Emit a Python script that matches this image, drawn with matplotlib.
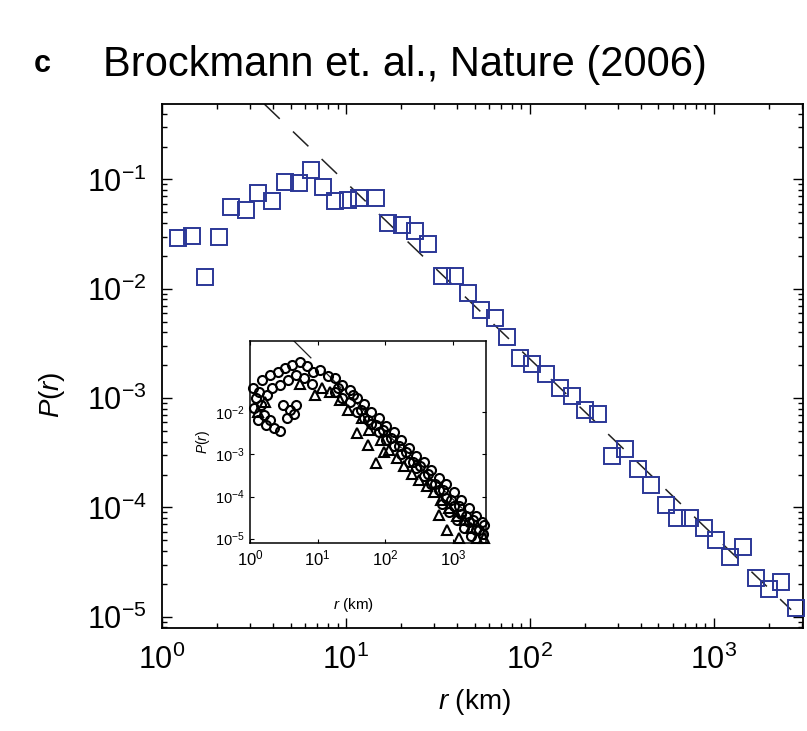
import matplotlib
matplotlib.use('Agg')
import matplotlib.pyplot as plt
from matplotlib.ticker import NullLocator

plt.rcParams['font.family'] = ['Liberation Sans', 'DejaVu Sans']
plt.rcParams['mathtext.fontset'] = 'custom'
plt.rcParams['mathtext.rm'] = 'Liberation Sans'
plt.rcParams['mathtext.it'] = 'Liberation Sans:italic'
plt.rcParams['mathtext.bf'] = 'Liberation Sans:bold'

# main panel: P(r) of dollar-bill travel distances (blue squares)
r_main = [1.22, 1.45, 1.71, 2.04, 2.37, 2.85, 3.31, 3.95, 4.64, 5.53, 6.42, 7.46,
          8.67, 10.3, 11.8, 14.6, 17.0, 20.2, 23.8, 28.0, 33.3, 39.2, 46.1, 54.2,
          64.6, 75.0, 88.3, 102.5, 122, 145.5, 169, 199, 234, 278, 327, 385,
          458, 546, 634, 746, 888, 1032, 1228, 1445, 1700, 2000, 2323, 2800]
p_main = [0.0289, 0.0301, 0.0127, 0.0295, 0.0566, 0.0521, 0.0745, 0.063, 0.094,
          0.092, 0.123, 0.0845, 0.063, 0.0643, 0.067, 0.067, 0.0396, 0.038,
          0.0335, 0.0255, 0.013, 0.013, 0.0091, 0.00637, 0.00538, 0.00361,
          0.00232, 0.00205, 0.00166, 0.00123, 0.00104, 0.000776, 0.000714,
          0.000295, 0.000342, 0.000225, 0.00016, 0.000105, 8.0e-5, 8.0e-5,
          6.5e-5, 5.05e-5, 3.53e-5, 4.35e-5, 2.27e-5, 1.80e-5, 2.09e-5, 1.21e-5]

# power-law guide line (end points)
line_r = [3.6, 2630]
line_p = [0.49, 1.16e-5]

# inset: circles and triangles
circ_r = [1.11, 1.22, 1.15, 1.36, 1.45, 1.61, 1.78, 1.97, 1.31, 1.72, 2.25, 2.76,
          3.06, 3.87, 3.50, 4.75, 4.44,
          1.50, 1.97, 2.58, 3.27, 4.15, 5.43, 6.89, 8.44, 10.7, 14.0, 4.75, 3.62,
          2.76, 2.11, 6.22, 8.17,
          17.8, 17.8, 22.5, 22.5, 29.5, 29.5, 37.5, 37.5, 49.0, 49.0, 62.1, 62.1,
          81.6, 81.6, 103, 103, 135, 135, 172, 172, 225, 225, 284, 284, 373, 373,
          474, 474, 621, 621, 789, 789, 1036, 1036, 1314, 1314, 1716, 1716, 2175,
          2175, 2672, 2765, 1144, 1451, 1838, 874, 687,
          19.7, 32.7, 42.9, 54.4, 71.3, 93.5, 122, 161, 204, 258, 327, 429, 543,
          713, 935, 1225, 1552, 1968, 2410, 2860]
circ_p = [0.038, 0.022, 0.0127, 0.030, 0.015, 0.0086, 0.026, 0.0066, 0.0066, 0.0050,
          0.0042, 0.0036, 0.0149, 0.0114, 0.0073, 0.0149, 0.0091,
          0.059, 0.077, 0.091, 0.113, 0.133, 0.157, 0.126, 0.091, 0.101, 0.073,
          0.077, 0.059, 0.045, 0.038, 0.065, 0.047,
          0.065, 0.030, 0.045, 0.022, 0.034, 0.0176, 0.022, 0.0102, 0.0158, 0.0073,
          0.0102, 0.0053, 0.0073, 0.0034, 0.0047, 0.0022, 0.0034, 0.0016, 0.0022,
          0.00102, 0.0014, 0.00066, 0.00092, 0.00048, 0.00066, 0.00031, 0.00043,
          0.00020, 0.00028, 0.00014, 0.00020, 9.2e-5, 0.00013, 6.0e-5, 8.3e-5,
          3.8e-5, 5.3e-5, 2.5e-5, 3.4e-5, 1.6e-5, 2.5e-5, 1.3e-5, 2.8e-5, 1.8e-5,
          1.15e-5, 4.3e-5, 6.6e-5,
          0.038, 0.0258, 0.0114, 0.0066, 0.0050, 0.0038, 0.00245, 0.0016, 0.00114,
          0.00066, 0.00053, 0.00034, 0.00020, 0.00014, 8.3e-5, 6.0e-5, 3.4e-5,
          2.8e-5, 1.6e-5, 2.1e-5]
tri_r = [15.0, 21.0, 27.6, 37.5, 44.4, 58.1, 73.6, 87.4, 114, 150, 190, 250, 316,
         414, 526, 665, 874, 1144, 1451, 1838, 2250, 2860, 54.4, 96.6, 5.43, 11.4,
         9.03, 1.31, 1.66, 816, 621, 1225]
tri_p = [0.030, 0.0196, 0.0114, 0.0032, 0.0073, 0.0038, 0.00063, 0.0022, 0.0013,
         0.00082, 0.00053, 0.00034, 0.00025, 0.00018, 0.00013, 8.3e-5, 5.3e-5,
         3.4e-5, 2.8e-5, 1.8e-5, 1.03e-5, 1.03e-5, 0.0017, 0.00114, 0.047, 0.038,
         0.026, 0.0102, 0.0176, 1.6e-5, 3.6e-5, 1.03e-5]
inset_line_r = [4.4, 2800]
inset_line_p = [0.5, 1.64e-5]

xmin, xmax = 1, 3050
ymin, ymax = 7.9e-6, 0.49

fig = plt.figure(figsize=(8.07, 7.31), dpi=100)
ax = fig.add_axes([0.2007, 0.1409, 0.7943, 0.7168])
ax.set_xscale('log')
ax.set_yscale('log')
ax.set_xlim(xmin, xmax)
ax.set_ylim(ymin, ymax)
ax.plot(line_r, line_p, color='#222222', lw=1.1, dashes=(14, 12), zorder=2)
ax.plot(r_main, p_main, ls='none', marker='s', ms=11, mfc='none', mec='#2b3797',
        mew=1.4, zorder=3, clip_on=False)
ax.set_xticks([1, 10, 100, 1000])
ax.set_yticks([1e-5, 1e-4, 1e-3, 1e-2, 1e-1])
ax.tick_params(which='both', direction='in', top=True, right=True, width=1)
ax.tick_params(which='major', length=7, labelsize=22)
ax.tick_params(axis='y', which='major', pad=11)
ax.tick_params(axis='x', which='major', pad=12)
ax.tick_params(which='minor', length=3.5)
for s in ax.spines.values():
    s.set_linewidth(1.3)
ax.set_xlabel(r'$\mathit{r}$ (km)', fontsize=20)
ax.set_ylabel(r'$\mathit{P}$($\mathit{r}$)', fontsize=20)
ax.xaxis.set_label_coords(0.488, -0.112)
ax.yaxis.set_label_coords(-0.148, 0.445)

# inset
axi = fig.add_axes([0.3098, 0.2572, 0.2924, 0.2763])
axi.set_xscale('log')
axi.set_yscale('log')
axi.set_xlim(xmin, xmax)
axi.set_ylim(ymin, ymax)
axi.plot(inset_line_r, inset_line_p, color='#222222', lw=0.9, dashes=(20, 14), zorder=2)
axi.plot(circ_r, circ_p, ls='none', marker='o', ms=6.5, mfc='none', mec='black',
         mew=1.5, zorder=3, clip_on=False)
axi.plot(tri_r, tri_p, ls='none', marker='^', ms=7, mfc='none', mec='black',
         mew=1.5, zorder=3, clip_on=False)
axi.set_xticks([1, 10, 100, 1000])
axi.set_yticks([1e-5, 1e-4, 1e-3, 1e-2])
axi.xaxis.set_minor_locator(NullLocator())
axi.yaxis.set_minor_locator(NullLocator())
axi.tick_params(which='major', direction='in', top=True, right=True, length=3,
                width=0.8, pad=4)
axi.tick_params(axis='x', labelsize=12)
axi.tick_params(axis='y', labelsize=10.5)
for s in axi.spines.values():
    s.set_linewidth(1.1)
axi.set_xlabel(r'$\mathit{r}$ (km)', fontsize=11)
axi.set_ylabel(r'$\mathit{P}$($\mathit{r}$)', fontsize=10)
axi.xaxis.set_label_coords(0.44, -0.26)
axi.yaxis.set_label_coords(-0.16, 0.5)

fig.text(0.052, 0.913, 'c', fontsize=22, fontweight='bold', ha='center', va='center')
fig.text(0.1276, 0.911, 'Brockmann et. al., Nature (2006)', fontsize=30,
         ha='left', va='center')

fig.savefig('out.png', dpi=100)
